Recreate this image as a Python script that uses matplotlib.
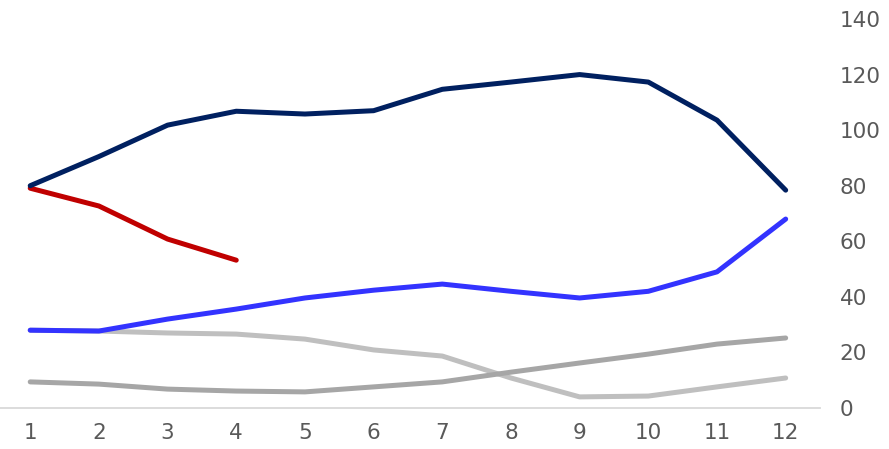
import matplotlib
matplotlib.use("Agg")
import matplotlib.pyplot as plt

months = list(range(1, 13))

navy = [80, 90.5, 101.8, 106.8, 105.8, 107, 114.7, 117.3, 120, 117.3, 103.6, 78.4]
red = [79.1, 72.7, 60.8, 53.2]
blue = [28, 27.7, 32, 35.6, 39.6, 42.4, 44.6, 42, 39.6, 42, 49, 68]
light_gray = [28, 27.7, 27, 26.6, 24.8, 20.9, 18.7, 10.8, 4, 4.3, 7.6, 10.8]
mid_gray = [9.4, 8.6, 6.8, 6.1, 5.8, 7.6, 9.4, 12.9, 16.2, 19.4, 23, 25.2]

fig = plt.figure(figsize=(8.89, 4.49), dpi=100)
ax = fig.add_axes([0, 0.0913, 0.9224, 0.8664])

lw = 3.6
kw = dict(linewidth=lw, solid_capstyle="round", solid_joinstyle="round")
ax.plot(months, light_gray, color="#BFBFBF", **kw)
ax.plot(months, mid_gray, color="#A6A6A6", **kw)
ax.plot(months, blue, color="#3333FF", **kw)
ax.plot(months[:4], red, color="#C00000", **kw)
ax.plot(months, navy, color="#002060", **kw)

ax.set_xlim(0.56, 12.5)
ax.set_ylim(0, 140)
ax.set_xticks(months)
ax.set_yticks(range(0, 141, 20))

for s in ["top", "left", "right"]:
    ax.spines[s].set_visible(False)
ax.spines["bottom"].set_color("#D9D9D9")
ax.spines["bottom"].set_linewidth(1.3)

ax.yaxis.tick_right()
ax.tick_params(axis="both", length=0, labelsize=15.5, colors="#595959")
ax.tick_params(axis="y", pad=14)
ax.tick_params(axis="x", pad=11)

fig.savefig("out.png", dpi=100)
